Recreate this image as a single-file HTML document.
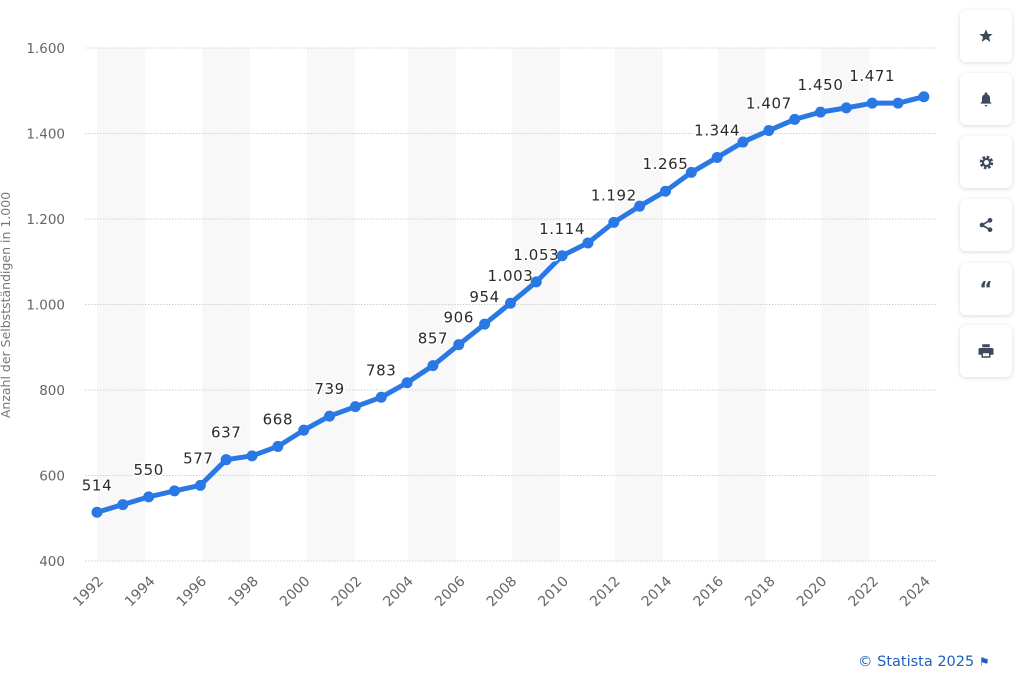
<!DOCTYPE html>
<html><head><meta charset="utf-8"><style>
body{margin:0;width:1024px;height:680px;background:#fff;font-family:"DejaVu Sans","Liberation Sans",sans-serif;overflow:hidden;position:relative}
.btn{position:absolute;left:960px;width:52px;height:52px;background:#fff;border-radius:6px;box-shadow:0 1px 5px rgba(0,0,0,.15);display:flex;align-items:center;justify-content:center;color:#4a5568}
</style></head><body>
<svg id="c" width="950" height="680" style="position:absolute;left:0;top:0"></svg>
<div class="btn" style="top:10px"><svg width="16" height="16" viewBox="0 0 24 24"><path fill="#3d4a5c" d="M12 2l3 7h7l-5.5 4.5 2 7.5L12 16.5 5.5 21l2-7.5L2 9h7z"/></svg></div>
<div class="btn" style="top:73px"><svg width="16" height="16" viewBox="0 0 24 24"><path fill="#3d4a5c" d="M12 2a2 2 0 0 1 2 2v1a6 6 0 0 1 4 6v5l2 2v1H4v-1l2-2v-5a6 6 0 0 1 4-6V4a2 2 0 0 1 2-2zm-2 19h4a2 2 0 0 1-4 0z"/></svg></div>
<div class="btn" style="top:136px"><svg width="17" height="17" viewBox="0 0 24 24"><circle cx="12" cy="12" r="7" fill="none" stroke="#3d4a5c" stroke-width="5" stroke-dasharray="3.3 2.2"/><circle cx="12" cy="12" r="5" fill="none" stroke="#3d4a5c" stroke-width="3"/></svg></div>
<div class="btn" style="top:199px"><svg width="16" height="16" viewBox="0 0 24 24"><g fill="#3d4a5c"><circle cx="18" cy="5" r="3.5"/><circle cx="6" cy="12" r="3.5"/><circle cx="18" cy="19" r="3.5"/></g><path d="M18 5L6 12l12 7" stroke="#3d4a5c" stroke-width="2.5" fill="none"/></svg></div>
<div class="btn" style="top:263px;font-weight:bold;font-size:20px;color:#3d4a5c">&#8220;</div>
<div class="btn" style="top:325px"><svg width="18" height="18" viewBox="0 0 24 24"><path fill="#3d4a5c" d="M7 3h10v4H7zM4 8h16a2 2 0 0 1 2 2v7h-4v4H6v-4H2v-7a2 2 0 0 1 2-2zm4 7v4h8v-4z"/></svg></div>
<div style="position:absolute;left:858px;top:654px;font-size:14.5px;color:#1f5fbf">© Statista 2025 <span style="font-size:12px">&#9873;</span></div>
<script>
var s='',x0=97,dx=25.84,y=v=>561-(v-400)*0.4275;
var bands=[97,202,307,408,512,615,718,821];
bands.forEach(b=>s+=`<rect x="${b}" y="48" width="48" height="513" fill="#f8f8f8"/>`);
[400,600,800,1000,1200,1400,1600].forEach(t=>{var yy=y(t);s+=`<line x1="85" x2="937" y1="${yy}" y2="${yy}" stroke="#cfcfcf" stroke-dasharray="1.5 1.5"/><text x="65" y="${yy+5}" text-anchor="end" font-size="13.5" fill="#666">${t>=1000?(t/1000).toFixed(3):t}</text>`});
s+=`<text transform="translate(10,305) rotate(-90)" text-anchor="middle" font-size="12.5" fill="#777">Anzahl der Selbstständigen in 1.000</text>`;
var d=[514,532,550,564,577,637,646,668,706,739,761,783,817,857,906,954,1003,1053,1114,1144,1192,1230,1265,1309,1344,1380,1407,1433,1450,1460,1471,1471,1486];
var lab={0:1,2:1,4:1,5:1,7:1,9:1,11:1,13:1,14:1,15:1,16:1,17:1,18:1,20:1,22:1,24:1,26:1,28:1,30:1};
var pts=d.map((v,i)=>[x0+i*dx,y(v)]);
s+=`<polyline points="${pts.map(p=>p.join(',')).join(' ')}" fill="none" stroke="#2a78e4" stroke-width="5" stroke-linejoin="round"/>`;
pts.forEach((p,i)=>{s+=`<circle cx="${p[0]}" cy="${p[1]}" r="5.5" fill="#2a78e4"/>`;
if(lab[i]){var v=d[i];var t=v>=1000?(v/1000).toFixed(3):v;s+=`<text x="${p[0]+(i==4?-2:0)}" y="${p[1]-22}" text-anchor="middle" font-size="15" fill="#2b2b2b" stroke="#fff" stroke-width="3" paint-order="stroke" letter-spacing="0.6">${t}</text>`}});
for(var i=0;i<=32;i+=2){var xx=x0+i*dx;s+=`<text transform="translate(${xx+7},582) rotate(-45)" text-anchor="end" font-size="14" fill="#666">${1992+i}</text>`}
document.getElementById('c').innerHTML=s;
</script>
</body></html>
